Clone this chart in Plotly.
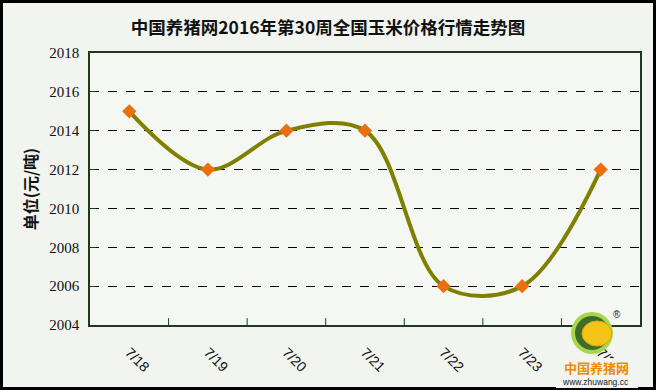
import plotly.graph_objects as go

categories = ["7/18", "7/19", "7/20", "7/21", "7/22", "7/23", "7/24"]
prices = [2015, 2012, 2014, 2014, 2006, 2006, 2012]
y_ticks = [2004, 2006, 2008, 2010, 2012, 2014, 2016, 2018]
title_text = "中国养猪网2016年第30周全国玉米价格行情走势图"
y_title = "单位(元/吨)"

W, H = 656, 390
fig = go.Figure()
fig.add_trace(go.Scatter(
    x=list(range(len(categories))), y=prices, mode="lines",
    line=dict(color="#808000", width=4, shape="spline", smoothing=1.0),
    hoverinfo="skip", showlegend=False))
fig.add_trace(go.Scatter(
    x=list(range(len(categories))), y=prices, mode="markers",
    marker=dict(symbol="diamond", size=11, color="#EC6E0C", line=dict(width=0)),
    showlegend=False))

fig.update_layout(
    width=W, height=H,
    margin=dict(l=90, r=16, t=53, b=65, autoexpand=False),
    paper_bgcolor="#F1F4EF", plot_bgcolor="#F5F7F3",
    title=dict(text="<b>" + title_text + "</b>", x=0.5, xanchor="center",
               y=1 - 28 / H, yanchor="middle", automargin=False,
               font=dict(family="Noto Sans CJK SC", size=17.5, color="#111")),
    xaxis=dict(range=[-0.5, len(categories) - 0.5], automargin=False,
               tickmode="array", tickvals=list(range(len(categories))), ticktext=categories,
               tickangle=45, showgrid=False, zeroline=False,
               showline=True, linecolor="#1E3A1E", linewidth=1.5, mirror=True,
               ticks="", tickfont=dict(family="Liberation Sans", size=14, color="#111"),
               ticklabelstandoff=12),
    yaxis=dict(range=[2004, 2018], tickmode="array", tickvals=y_ticks, automargin=False,
               ticks="inside", ticklen=6, tickcolor="#1E3A1E",
               showgrid=True, gridcolor="#000", griddash="dash", gridwidth=1,
               zeroline=False, showline=True, linecolor="#1E3A1E", linewidth=1.5, mirror=True,
               tickfont=dict(family="Liberation Serif", size=15, color="#111"),
               ticklabelstandoff=6,
               title=dict(text="<b>" + y_title + "</b>", standoff=8,
                          font=dict(family="Noto Sans CJK SC", size=16, color="#111"))),
)

def px(x): return (x - 90) / 550
def py(y): return (325 - y) / 272

shapes = []
for i in range(1, len(categories)):
    shapes.append(dict(type="line", xref="x", yref="paper", x0=i - 0.5, x1=i - 0.5,
                       y0=0, y1=0.025, line=dict(color="#1E3A1E", width=1)))
# outer border
shapes.append(dict(type="rect", xref="paper", yref="paper", x0=px(1.5), x1=px(654.5),
                   y0=py(388.5), y1=py(1.5), line=dict(color="#000", width=3)))
# logo approximation
shapes.append(dict(type="rect", xref="paper", yref="paper", layer="above",
                   x0=px(556), x1=px(638), y0=py(388), y1=py(358),
                   fillcolor="#F1F4EF", line=dict(width=0)))
cx, cy = 592, 333
shapes.append(dict(type="circle", xref="paper", yref="paper", layer="above",
                   x0=px(cx - 21), x1=px(cx + 21), y0=py(cy + 21), y1=py(cy - 21),
                   fillcolor="#A8D64A", line=dict(width=0)))
shapes.append(dict(type="circle", xref="paper", yref="paper", layer="above",
                   x0=px(cx - 17), x1=px(cx + 17), y0=py(cy + 17), y1=py(cy - 17),
                   fillcolor="#3C6E2A", line=dict(width=0)))
shapes.append(dict(type="circle", xref="paper", yref="paper", layer="above",
                   x0=px(cx - 10), x1=px(cx + 20), y0=py(cy + 13), y1=py(cy - 12),
                   fillcolor="#F5C418", line=dict(color="#E8A010", width=1)))
fig.update_layout(shapes=shapes)

fig.add_annotation(xref="paper", yref="paper", x=px(596), y=py(367.5), text="<b>中国养猪网</b>",
                   xanchor="center", yanchor="middle",
                   showarrow=False, font=dict(family="Noto Sans CJK SC", size=13, color="#F08A00"))
fig.add_annotation(xref="paper", yref="paper", x=px(595), y=py(382), text="www.zhuwang.cc",
                   xanchor="center", yanchor="middle",
                   showarrow=False, font=dict(family="Liberation Sans", size=8.5, color="#222"))
fig.add_annotation(xref="paper", yref="paper", x=px(617), y=py(314), text="®",
                   xanchor="center", yanchor="middle",
                   showarrow=False, font=dict(family="Liberation Sans", size=10, color="#222"))

fig.write_html("out.html", config={"displayModeBar": False},
               post_script="document.body.style.margin='0';")
